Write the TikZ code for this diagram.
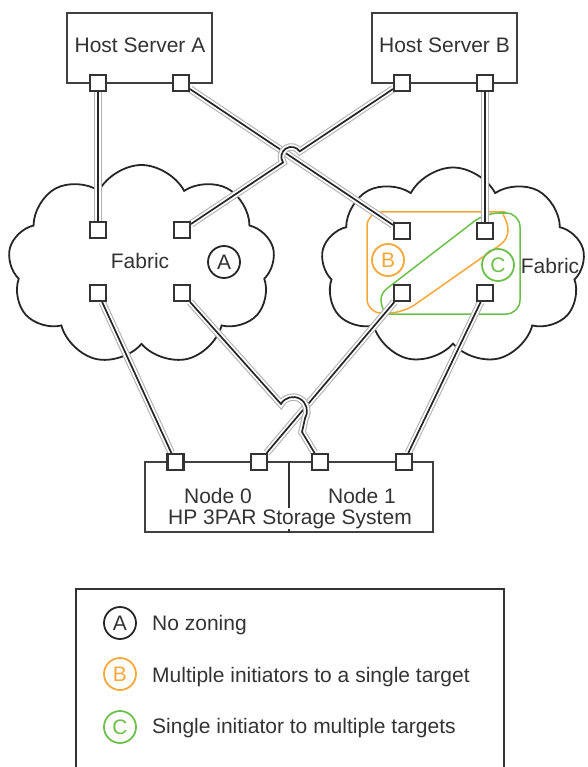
\documentclass[tikz,border=0pt]{standalone}
\usepackage{fontspec}
\setmainfont{Liberation Sans}
\usetikzlibrary{shapes.symbols,calc,intersections}
\pgfdeclarelayer{clouds}
\pgfdeclarelayer{cables}
\pgfsetlayers{clouds,cables,main}

\definecolor{ink}{HTML}{333333}
\definecolor{zoneB}{HTML}{F5A838}
\definecolor{zoneC}{HTML}{6CC04A}

\begin{document}
\begin{tikzpicture}[x=1pt,y=-1pt,
  font=\fontsize{21}{24}\selectfont, text=ink,
  box/.style={draw=black!75, line width=2.2pt, fill=white, inner sep=0pt},
  port/.style={draw=black!80, line width=2.2pt, fill=white, minimum size=16pt, inner sep=0pt},
  cable/.style={draw=black!85, line width=1.7pt,
    preaction={draw=black!30, line width=7.5pt},
    preaction={draw=white, line width=5.3pt}},
  fabric/.style={cloud, cloud puffs=9, cloud puff arc=125, aspect=1.3,
    draw=black!85, line width=1.8pt, inner sep=0pt},
  zone/.style={circle, line width=1.8pt, minimum size=32pt, inner sep=0pt},
  label/.style={anchor=base, inner sep=0pt},
  zoneline/.style={line width=1.5pt, rounded corners=14pt},
]
\useasboundingbox (0,0) rectangle (587,767);

% fabrics and zones
\begin{pgfonlayer}{clouds}
  \node[fabric, minimum width=267pt, minimum height=200pt] (fabL) at (141.5,265) {};
  \node[fabric, minimum width=264pt, minimum height=197pt] (fabR) at (453,266) {};
  % zone B: multiple initiators to a single target
  \draw[zoneB, zoneline]
    (420,212) -- (490,212) [sharp corners]
    arc[start angle=-90, end angle=55, radius=18] [rounded corners=14pt]
    -- (403,313) -- (367,313) -- (367,212) -- cycle;
  % zone C: single initiator to multiple targets
  \draw[zoneC, zoneline]
    (420,314) -- (395,314) [sharp corners]
    arc[start angle=90, end angle=232.3, radius=14] [rounded corners=14pt]
    -- (485,213) -- (520,213) -- (520,314) -- cycle;
\end{pgfonlayer}

\node[label] (fabLt) at (140,268) {Fabric};
\node[label] (fabRt) at (550,273) {Fabric};
\node[zone, draw=black!85] (zA) at (224,262) {A};
\node[zone, draw=zoneB, text=zoneB] (zB) at (388,260) {B};
\node[zone, draw=zoneC, text=zoneC] (zC) at (498,265) {C};

% host servers
\node[box, minimum width=145pt, minimum height=70pt] (hostA) at (139.5,48) {};
\node[label] at (140,53) {Host Server A};
\node[box, minimum width=145pt, minimum height=70pt] (hostB) at (444.5,48) {};
\node[label] at (444.5,53) {Host Server B};

% storage system
\node[box, minimum width=288pt, minimum height=70pt] (store) at (289,497) {};
\draw[black!80, line width=1.6pt] (store.north) -- (store.south);
\node[label] at (218,503) {Node 0};
\node[label] at (362,503) {Node 1};
\node[label, fill=white, inner sep=1pt] at (290,524) {HP 3PAR Storage System};

% ports
\node[port] (ha1) at (98,83) {};
\node[port] (ha2) at (181,83) {};
\node[port] (hb1) at (402,83) {};
\node[port] (hb2) at (485,83) {};
\node[port] (lf1) at (98,230) {};
\node[port] (lf2) at (182,230) {};
\node[port] (lf3) at (98,293) {};
\node[port] (lf4) at (182,293) {};
\node[port] (rf1) at (402,231) {};
\node[port] (rf2) at (485,231) {};
\node[port] (rf3) at (402,293) {};
\node[port] (rf4) at (485,293) {};
\node[port] (st1) at (175.5,462) {};
\node[port] (st2) at (259,462) {};
\node[port] (st3) at (320,462) {};
\node[port] (st4) at (404,462) {};

% crossing of the two host-to-fabric cables
\path[name path=pa] (ha2) -- (rf1);
\path[name path=pb] (hb1) -- (lf2);
\path[name intersections={of=pa and pb, by=xa}];
% hop and bend of the cable from the left fabric to node 1
\coordinate (hopin) at (281,404);
\coordinate (hopbend) at (302,432);

\begin{pgfonlayer}{cables}
  \draw[cable] (ha1) -- (lf1);
  \draw[cable] (hb2) -- (rf2);
  \draw[cable] (ha2) -- (rf1);
  \draw[cable] let \p1=($(hb1)-(lf2)$), \n1={atan2(-\y1,\x1)} in
    (hb1) -- ($(xa)+(\n1:10)$) arc[start angle=\n1, delta angle=-180, radius=10] -- (lf2);
  \draw[cable] (lf3) -- (st1);
  \draw[cable] (rf3) -- (st2);
  \draw[cable] (rf4) -- (st4);
  \draw[cable] (lf4) -- (hopin)
    arc[start angle=-150.3, delta angle=180, radius=13.9] -- (hopbend) -- (st3);
\end{pgfonlayer}

% legend
\draw[black!80, line width=2.2pt] (76,768) |- (504,589) -- (504,768);
\node[zone, draw=black!85] (lA) at (120,623) {A};
\node[zone, draw=zoneB, text=zoneB] (lB) at (120,674) {B};
\node[zone, draw=zoneC, text=zoneC] (lC) at (120,727) {C};
\node[label, anchor=base west] (tA) at (152,630) {No zoning};
\node[label, anchor=base west] (tB) at (152,682) {Multiple initiators to a single target};
\node[label, anchor=base west] (tC) at (152,733) {Single initiator to multiple targets};
\end{tikzpicture}
\end{document}
